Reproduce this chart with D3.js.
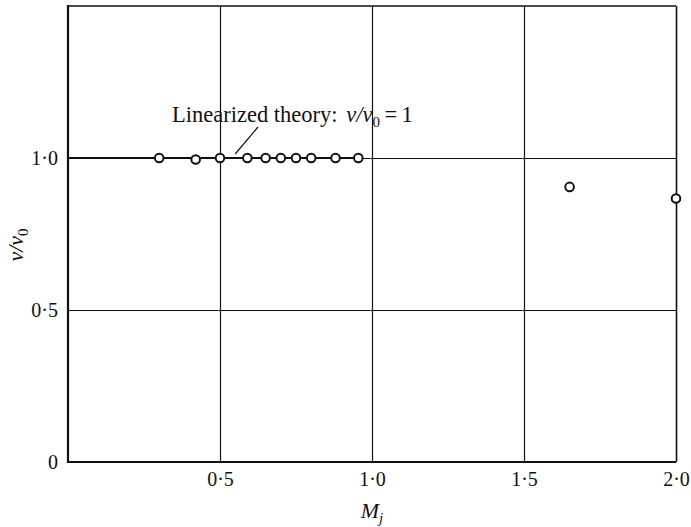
<!DOCTYPE html>
<html><head><meta charset="utf-8">
<script src="https://cdn.jsdelivr.net/npm/d3@7"></script>
<style>
html,body{margin:0;padding:0;background:#fff;}
text{font-family:"Liberation Serif","DejaVu Serif",serif;fill:#111;}
</style></head>
<body><svg id="chart" width="691" height="527"></svg>
<script>
const machNumbers = [0.30, 0.42, 0.50, 0.59, 0.65, 0.70, 0.75, 0.80, 0.88, 0.955, 1.65, 2.0];
const freqRatios  = [1.0, 0.995, 1.0, 1.0, 1.0, 1.0, 1.0, 1.0, 1.0, 1.0, 0.905, 0.867];
const theoryX = [0, 0.955];
const theoryY = [1, 1];
const xTicks = [0.5, 1.0, 1.5, 2.0];
const xTickLabels = ["0·5", "1·0", "1·5", "2·0"];
const yTicks = [0, 0.5, 1.0];
const yTickLabels = ["0", "0·5", "1·0"];
const annotation = "Linearized theory: ";

const svg = d3.select("#chart");
const x = d3.scaleLinear().domain([0, 2]).range([68, 676]);
const y = d3.scaleLinear().domain([0, 1.5]).range([462, 6]);

// gridlines
svg.append("g").selectAll("line").data(xTicks).join("line")
  .attr("x1", d => Math.round(x(d)) + 0.5).attr("x2", d => Math.round(x(d)) + 0.5)
  .attr("y1", y(0)).attr("y2", y(1.5))
  .attr("stroke", "#111").attr("stroke-width", d => d === 2 ? 1.6 : 1.2);
svg.append("g").selectAll("line").data([0.5, 1.0]).join("line")
  .attr("x1", x(0)).attr("x2", x(2))
  .attr("y1", d => Math.round(y(d)) + 0.5).attr("y2", d => Math.round(y(d)) + 0.5)
  .attr("stroke", "#111").attr("stroke-width", 1.2);
// frame
svg.append("line").attr("x1", x(0)).attr("x2", x(2)).attr("y1", y(1.5)).attr("y2", y(1.5))
  .attr("stroke", "#111").attr("stroke-width", 1.6);
svg.append("line").attr("x1", x(0)).attr("x2", x(2)).attr("y1", y(0)).attr("y2", y(0))
  .attr("stroke", "#111").attr("stroke-width", 2);
svg.append("line").attr("x1", x(0)).attr("x2", x(0)).attr("y1", y(0) + 1).attr("y2", y(1.5) - 1)
  .attr("stroke", "#111").attr("stroke-width", 2.2);

// axes labels via d3 axes (no tick lines)
const xAxis = d3.axisBottom(x).tickValues(xTicks).tickSize(0).tickPadding(10)
  .tickFormat((d, i) => xTickLabels[i]);
const gx = svg.append("g").attr("transform", `translate(0,${y(0)})`).call(xAxis);
gx.select(".domain").remove();
gx.selectAll("text").style("font-family", "Liberation Serif").style("font-size", "20px").attr("fill", "#111");

const yAxis = d3.axisLeft(y).tickValues(yTicks).tickSize(0).tickPadding(10)
  .tickFormat((d, i) => yTickLabels[i]);
const gy = svg.append("g").attr("transform", `translate(${x(0)},0)`).call(yAxis);
gy.select(".domain").remove();
gy.selectAll("text").style("font-family", "Liberation Serif").style("font-size", "20px").attr("fill", "#111");

// theory line
const line = d3.line().x(d => x(d[0])).y(d => y(d[1]));
svg.append("path").datum(theoryX.map((v, i) => [v, theoryY[i]]))
  .attr("d", line).attr("fill", "none").attr("stroke", "#111").attr("stroke-width", 2.2);

// points
svg.append("g").selectAll("circle").data(machNumbers.map((m, i) => [m, freqRatios[i]])).join("circle")
  .attr("cx", d => x(d[0])).attr("cy", d => y(d[1])).attr("r", 4.3)
  .attr("fill", "#fff").attr("stroke", "#111").attr("stroke-width", 2);

// annotation
const ann = svg.append("text").attr("x", 172).attr("y", 122).style("font-size", "22.5px")
  .style("white-space", "pre").attr("xml:space", "preserve");
ann.append("tspan").text(annotation);
ann.append("tspan").attr("dx", 3).attr("font-style", "italic").text("ν/ν");
ann.append("tspan").attr("dy", 5).style("font-size", "15px").text("0");
ann.append("tspan").attr("dy", -5).text("\u2009=\u20091");
svg.append("line").attr("x1", x(0.55)).attr("y1", y(1.0) - 4).attr("x2", x(0.625)).attr("y2", y(1.0) - 31)
  .attr("stroke", "#111").attr("stroke-width", 1.2);

// axis titles
const xt = svg.append("text").attr("x", x(1.0)).attr("y", 518).attr("text-anchor", "middle").style("font-size", "22px");
xt.append("tspan").attr("font-style", "italic").text("M");
xt.append("tspan").attr("font-style", "italic").attr("dy", 5).style("font-size", "15px").text("j");

const yt = svg.append("text").attr("transform", "translate(23,245) rotate(-90)").attr("text-anchor", "middle").style("font-size", "22px");
yt.append("tspan").attr("font-style", "italic").text("ν/ν");
yt.append("tspan").attr("dy", 5).style("font-size", "15px").text("0");
</script></body></html>
